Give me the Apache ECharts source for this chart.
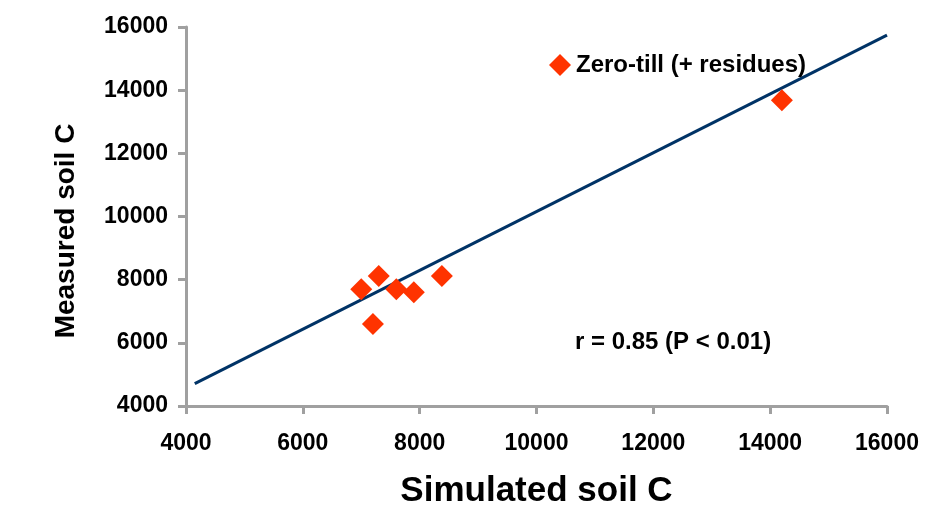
<!DOCTYPE html>
<html>
<head>
<meta charset="utf-8">
<script src="https://cdn.jsdelivr.net/npm/echarts@6/dist/echarts.min.js"></script>
<style>html,body{margin:0;padding:0;background:#fff;}#c{width:939px;height:506px;}</style>
</head>
<body>
<div id="c"></div>
<script>
// Data
var simulated = [7000, 7300, 7600, 7900, 8380, 7200, 14200];
var measured  = [7700, 8120, 7700, 7600, 8120, 6600, 13680];
var trendX = [4150, 16000];
var trendY = [4710, 15745];
var seriesName = 'Zero-till (+ residues)';
var statText = 'r = 0.85 (P < 0.01)';
var xTitle = 'Simulated soil C';
var yTitle = 'Measured soil C';

var pts = simulated.map(function (x, i) { return [x, measured[i]]; });
var trend = trendX.map(function (x, i) { return [x, trendY[i]]; });
var FF = 'Liberation Sans, Arial, sans-serif';
var axisCol = '#A0A0A0';
var plain = function (v) { return String(v); };

var chart = echarts.init(document.getElementById('c'));
chart.setOption({
  animation: false,
  backgroundColor: '#fff',
  textStyle: { fontFamily: FF },
  grid: { left: 186, right: 52, top: 27, bottom: 100, containLabel: false, outerBoundsMode: 'none' },
  legend: {
    data: [{ name: seriesName, icon: 'diamond' }],
    left: 544, top: 48,
    itemWidth: 22, itemHeight: 22, itemGap: 10,
    textStyle: { fontFamily: FF, fontWeight: 'bold', fontSize: 24, color: '#000', padding: [0, 0, 0, 0] }
  },
  xAxis: {
    type: 'value', min: 4000, max: 16000, interval: 2000,
    name: xTitle, nameLocation: 'middle', nameGap: 68,
    nameTextStyle: { fontFamily: FF, fontWeight: 'bold', fontSize: 35, color: '#000' },
    axisLine: { show: true, lineStyle: { color: axisCol, width: 3 } },
    axisTick: { show: true, length: 8, lineStyle: { color: axisCol, width: 3 } },
    axisLabel: { margin: 26, fontFamily: FF, fontWeight: 'bold', fontSize: 23, color: '#000', formatter: plain },
    splitLine: { show: false }
  },
  yAxis: {
    type: 'value', min: 4000, max: 16000, interval: 2000,
    axisLine: { show: true, lineStyle: { color: axisCol, width: 3 } },
    axisTick: { show: true, length: 8, lineStyle: { color: axisCol, width: 3 } },
    axisLabel: { margin: 18, fontFamily: FF, fontWeight: 'bold', fontSize: 23, color: '#000', formatter: plain },
    splitLine: { show: false }
  },
  series: [
    {
      name: 'trend', type: 'line', data: trend, symbol: 'none', silent: true,
      lineStyle: { color: '#003366', width: 3 }, z: 2
    },
    {
      name: seriesName, type: 'scatter', data: pts, symbol: 'diamond', symbolSize: 22,
      itemStyle: { color: '#FF3300', opacity: 1 }, z: 3
    }
  ],
  graphic: [
    {
      type: 'text', left: 575, top: 330,
      style: { text: statText, font: 'bold 24px ' + FF, fill: '#000' }
    },
    {
      type: 'text', x: 66, y: 231, rotation: Math.PI / 2,
      style: { text: yTitle, font: 'bold 28px ' + FF, fill: '#000', align: 'center', verticalAlign: 'middle' }
    }
  ]
});
</script>
</body>
</html>
